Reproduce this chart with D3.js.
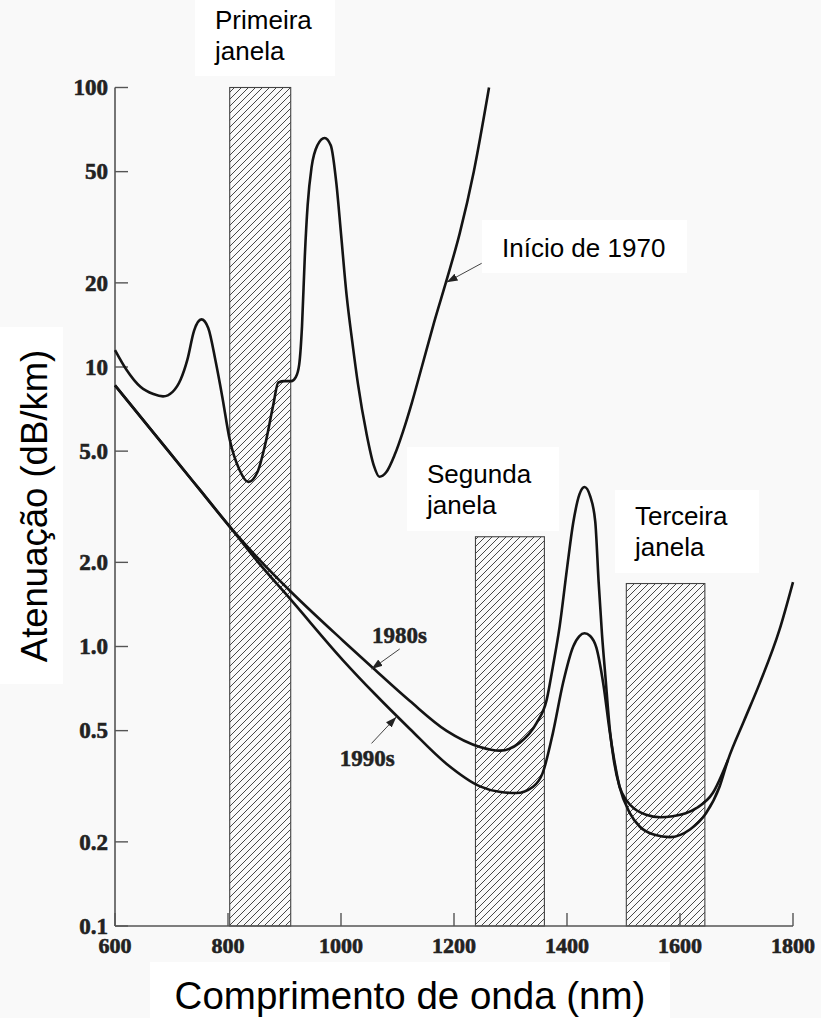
<!DOCTYPE html>
<html><head><meta charset="utf-8">
<script src="https://cdn.jsdelivr.net/npm/d3@7"></script>
<style>html,body{margin:0;padding:0;background:#f9f9f9;} svg{display:block}</style>
</head><body><svg id="c" width="821" height="1018"></svg>
<script>
// ---------- data ----------
const xTicks = [600, 800, 1000, 1200, 1400, 1600, 1800];
const yTicks = [0.1, 0.2, 0.5, 1, 2, 5, 10, 20, 50, 100];
const yTickLabels = ["0.1", "0.2", "0.5", "1.0", "2.0", "5.0", "10", "20", "50", "100"];

// optical windows: [start nm, end nm, top dB/km]
const windowRanges = [[803, 911, 100], [1238, 1360, 2.47], [1505, 1644, 1.68]];
const windowNames = [["Primeira", "janela"], ["Segunda", "janela"], ["Terceira", "janela"]];

// [wavelength nm, attenuation dB/km]
const early1970 = [
  [600, 11.5], [620, 9.8], [645, 8.5], [668, 8.0], [685, 7.85], [702, 8.15], [716, 9.0], [728, 10.6],
  [740, 13.5], [753, 14.8], [765, 13.8], [778, 10.5], [790, 7.8], [803, 5.5], [820, 4.3],
  [836, 3.88], [852, 4.2], [866, 5.3], [880, 7.3], [889, 8.8], [900, 8.9], [912, 8.9],
  [920, 9.2], [926, 10.2], [931, 14], [936, 25], [941, 38], [948, 52], [958, 62], [971, 66],
  [982, 62], [992, 45], [1000, 30], [1010, 18], [1020, 12.3], [1030, 8.7], [1045, 5.8],
  [1058, 4.45], [1068, 4.05], [1080, 4.2], [1095, 4.85], [1110, 5.9], [1125, 7.4],
  [1143, 10], [1165, 14.5], [1187, 20.5], [1210, 30], [1235, 50], [1262, 100]
];
const s1980 = [
  [600, 8.6], [700, 4.85], [750, 3.64], [803, 2.685], [860, 2.0], [910, 1.58], [1004, 1.047],
  [1057, 0.836], [1122, 0.638], [1187, 0.499], [1246, 0.437], [1281, 0.424], [1316, 0.452],
  [1346, 0.532], [1364, 0.644], [1375, 0.847], [1387, 1.18], [1400, 1.9], [1411, 2.77],
  [1422, 3.5], [1431, 3.72], [1441, 3.45], [1450, 2.8], [1456, 1.7], [1462, 1.1], [1468, 0.78],
  [1476, 0.5], [1483, 0.39], [1493, 0.315], [1505, 0.282], [1520, 0.262], [1540, 0.25],
  [1565, 0.245], [1587, 0.247], [1610, 0.253], [1629, 0.264], [1658, 0.299], [1685, 0.393]
];
const s1990 = [
  [600, 8.6], [700, 4.85], [750, 3.64], [803, 2.685], [860, 1.93], [910, 1.48], [1004, 0.891],
  [1060, 0.676], [1122, 0.507], [1187, 0.38], [1246, 0.316], [1280, 0.302], [1310, 0.299],
  [1340, 0.315], [1357, 0.353], [1375, 0.49], [1393, 0.74], [1411, 1.0], [1422, 1.09], [1431, 1.115],
  [1441, 1.09], [1452, 0.99], [1464, 0.74], [1476, 0.49], [1493, 0.315], [1511, 0.254], [1529, 0.2265],
  [1555, 0.212], [1582, 0.208], [1617, 0.221], [1646, 0.253], [1670, 0.315], [1685, 0.393],
  [1713, 0.54], [1741, 0.738], [1776, 1.146], [1800, 1.70]
];

// annotation arrows [from, to] in data units
const arrowDefs = [
  [[1249, 23.5], [1187, 20.1]],
  [[1104, 0.98], [1054, 0.83]],
  [[1054, 0.45], [1098, 0.56]]
];
const seriesLabels = [["1980s", 1055, 1.03], ["1990s", 998, 0.374]];

// ---------- layout ----------
const svg = d3.select("#c");
const x = d3.scaleLinear().domain([600, 1800]).range([115, 793]);
const y = d3.scaleLog().domain([0.1, 100]).range([926, 87.5]);
const sansFont = "Liberation Sans, Arial, sans-serif";
const serifFont = "Liberation Serif, Times New Roman, serif";

const defs = svg.append("defs");
const pat = defs.append("pattern").attr("id", "hatch").attr("patternUnits", "userSpaceOnUse")
  .attr("width", 7).attr("height", 7);
pat.append("path").attr("d", "M-1,1 l2,-2 M0,7 l7,-7 M6,8 l2,-2")
  .attr("stroke", "#333").attr("stroke-width", 0.9);
defs.append("marker").attr("id", "ah").attr("viewBox", "0 0 10 10")
  .attr("refX", 10).attr("refY", 5).attr("markerWidth", 11).attr("markerHeight", 11)
  .attr("markerUnits", "userSpaceOnUse").attr("orient", "auto")
  .append("path").attr("d", "M0,1.5 L10,5 L0,8.5Z").attr("fill", "#222");

// white label boxes
const boxes = [[195, 0, 140, 76], [482, 220, 205, 53], [407, 447, 152, 84], [615, 490, 144, 83],
  [0, 327, 63, 357], [150, 962, 520, 56]];
svg.selectAll("rect.box").data(boxes).join("rect").attr("class", "box")
  .attr("x", d => d[0]).attr("y", d => d[1]).attr("width", d => d[2]).attr("height", d => d[3])
  .attr("fill", "#ffffff");

// hatched windows
svg.selectAll("rect.win").data(windowRanges).join("rect").attr("class", "win")
  .attr("x", d => x(d[0])).attr("y", d => y(d[2]))
  .attr("width", d => x(d[1]) - x(d[0])).attr("height", d => y(0.1) - y(d[2]))
  .attr("fill", "url(#hatch)").attr("stroke", "#444").attr("stroke-width", 1.1);

// axes
const g = svg.append("g");
g.append("line").attr("x1", x(600)).attr("x2", x(600)).attr("y1", y(100)).attr("y2", y(0.1))
  .attr("stroke", "#555").attr("stroke-width", 1.6);
g.append("line").attr("x1", x(600)).attr("x2", x(1800)).attr("y1", y(0.1)).attr("y2", y(0.1))
  .attr("stroke", "#555").attr("stroke-width", 1.6);
g.selectAll("line.yt").data(yTicks).join("line").attr("class", "yt")
  .attr("x1", x(600)).attr("x2", x(600) + 13).attr("y1", d => y(d)).attr("y2", d => y(d))
  .attr("stroke", "#555").attr("stroke-width", 1.4);
g.selectAll("line.xt").data(xTicks).join("line").attr("class", "xt")
  .attr("x1", d => x(d)).attr("x2", d => x(d)).attr("y1", y(0.1)).attr("y2", y(0.1) - 13)
  .attr("stroke", "#555").attr("stroke-width", 1.4);
g.selectAll("text.yl").data(yTicks).join("text").attr("class", "yl")
  .attr("x", x(600) - 7).attr("y", d => y(d)).attr("dy", "0.34em")
  .attr("text-anchor", "end").attr("font-family", serifFont).attr("font-weight", "bold")
  .attr("font-size", 23).attr("fill", "#222").attr("stroke", "#222").attr("stroke-width", 0.6)
  .text((d, i) => yTickLabels[i]);
g.selectAll("text.xl").data(xTicks).join("text").attr("class", "xl")
  .attr("x", d => x(d)).attr("y", 953)
  .attr("text-anchor", "middle").attr("font-family", serifFont).attr("font-weight", "bold")
  .attr("font-size", 22).attr("fill", "#222").attr("stroke", "#222").attr("stroke-width", 0.6)
  .text(d => d);

// curves
const line = d3.line().x(d => x(d[0])).y(d => y(d[1])).curve(d3.curveMonotoneX);
[early1970, s1980, s1990].forEach(s => {
  svg.append("path").datum(s).attr("d", line).attr("fill", "none")
    .attr("stroke", "#141414").attr("stroke-width", 2.6).attr("stroke-linejoin", "round");
});

// arrows
svg.selectAll("line.arr").data(arrowDefs).join("line").attr("class", "arr")
  .attr("x1", d => x(d[0][0])).attr("y1", d => y(d[0][1]))
  .attr("x2", d => x(d[1][0])).attr("y2", d => y(d[1][1]))
  .attr("stroke", "#444").attr("stroke-width", 1).attr("marker-end", "url(#ah)");

svg.selectAll("text.sl").data(seriesLabels).join("text").attr("class", "sl")
  .attr("x", d => x(d[1])).attr("y", d => y(d[2]))
  .attr("font-family", serifFont).attr("font-weight", "bold").attr("font-size", 23)
  .attr("fill", "#222").attr("stroke", "#222").attr("stroke-width", 0.5).text(d => d[0]);

// window labels
const winLabelPos = [[215, 29], [427, 483], [635, 525]];
windowNames.forEach((n, i) => {
  const t = svg.append("text").attr("font-family", sansFont).attr("font-size", 26).attr("fill", "#000");
  n.forEach((w, j) => t.append("tspan").attr("x", winLabelPos[i][0]).attr("y", winLabelPos[i][1] + j * 31).text(w));
});
svg.append("text").attr("x", 502).attr("y", 257).attr("font-family", sansFont).attr("font-size", 26)
  .attr("fill", "#000").text("Início de 1970");

// axis titles
svg.append("text").attr("transform", "translate(47,506) rotate(-90)").attr("text-anchor", "middle")
  .attr("font-family", sansFont).attr("font-size", 36.5).attr("fill", "#000").text("Atenuação (dB/km)");
svg.append("text").attr("x", 410).attr("y", 1009).attr("text-anchor", "middle")
  .attr("font-family", sansFont).attr("font-size", 38.5).attr("fill", "#000").text("Comprimento de onda (nm)");
</script></body></html>
